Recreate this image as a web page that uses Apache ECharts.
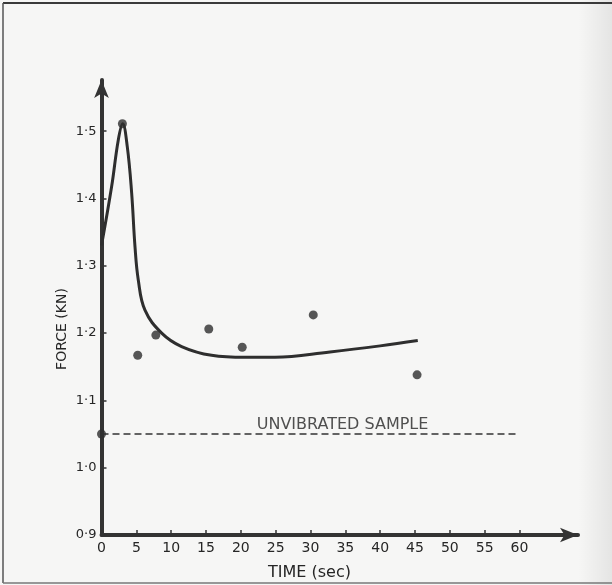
<!DOCTYPE html>
<html lang="en">
<head>
    <meta charset="UTF-8">
    <title>Force vs Time</title>
    <script src="https://cdn.jsdelivr.net/npm/echarts/dist/echarts.min.js"></script>
    <style>
        html, body { margin: 0; padding: 0; background: #f6f6f5; }
        #main { width: 612px; height: 585px; }
    </style>
</head>
<body>
    <div id="main"></div>
    <script>
        // measured points (dots)
        var dotTime = [0, 3.0, 5.2, 7.8, 15.4, 20.2, 30.4, 45.3];
        var dotForce = [1.05, 1.511, 1.167, 1.197, 1.206, 1.179, 1.227, 1.138];

        // hand drawn fitted curve
        var curveTime = [0, 1.46, 2.41, 3.04, 3.70, 4.33, 4.81, 5.28, 6.24, 8.64, 11.5, 15.8, 20.6, 24.9, 32.8, 40.0, 45.4];
        var curveForce = [1.33, 1.418, 1.487, 1.511, 1.477, 1.408, 1.328, 1.279, 1.234, 1.200, 1.180, 1.167, 1.164, 1.164, 1.172, 1.181, 1.189];

        // unvibrated reference level
        var refTime = [0, 60];
        var refForce = [1.05, 1.05];

        var timeTicks = [0, 5, 10, 15, 20, 25, 30, 35, 40, 45, 50, 55, 60];
        var forceTicks = [0.9, 1.0, 1.1, 1.2, 1.3, 1.4, 1.5];

        var ink = '#262626';
        var font = 'DejaVu Sans';

        function zip(xs, ys) {
            return xs.map(function (x, i) { return [x, ys[i]]; });
        }

        var chart = echarts.init(document.getElementById('main'));

        var option = {
            backgroundColor: '#f6f6f5',
            animation: false,
            grid: { left: 101.5, right: 34, top: 80, bottom: 50 },
            xAxis: {
                type: 'value',
                min: 0,
                max: 68.4,
                interval: 5,
                splitLine: { show: false },
                axisLine: {
                    lineStyle: { color: '#333', width: 4 },
                    symbol: ['none', 'arrow'],
                    symbolSize: [11, 18]
                },
                axisTick: {
                    inside: true, length: 5,
                    lineStyle: { color: '#333', width: 1.5 },
                    customValues: timeTicks
                },
                axisLabel: {
                    customValues: timeTicks,
                    color: ink, fontFamily: font, fontSize: 14, margin: 6
                }
            },
            yAxis: {
                type: 'value',
                min: 0.9,
                max: 1.576,
                interval: 0.1,
                splitLine: { show: false },
                axisLine: {
                    lineStyle: { color: '#333', width: 4 },
                    symbol: ['none', 'arrow'],
                    symbolSize: [11, 18]
                },
                axisTick: {
                    inside: true, length: 5,
                    lineStyle: { color: '#333', width: 1.5 },
                    customValues: forceTicks
                },
                axisLabel: {
                    customValues: forceTicks,
                    color: ink, fontFamily: font, fontSize: 13, margin: 5,
                    formatter: function (v) { return v.toFixed(1).replace('.', '·'); }
                }
            },
            graphic: [
                {
                    type: 'rect', shape: { x: 578, y: 0, width: 34, height: 585 },
                    style: {
                        fill: new echarts.graphic.LinearGradient(0, 0, 1, 0, [
                            { offset: 0, color: 'rgba(0,0,0,0)' },
                            { offset: 1, color: 'rgba(0,0,0,0.07)' }
                        ])
                    },
                    silent: true
                },
                { type: 'line', shape: { x1: 3, y1: 3, x2: 612, y2: 3 }, style: { stroke: '#3a3a3a', lineWidth: 2 } },
                { type: 'line', shape: { x1: 3, y1: 3, x2: 3, y2: 583 }, style: { stroke: '#555', lineWidth: 1.5 } },
                { type: 'line', shape: { x1: 3, y1: 583, x2: 612, y2: 583 }, style: { stroke: '#777', lineWidth: 1.5 } },
                {
                    type: 'text', left: 268, top: 565,
                    style: { text: 'TIME (sec)', fill: ink, font: '16px "DejaVu Sans"' }
                },
                {
                    type: 'text', x: 62, y: 329, rotation: Math.PI / 2,
                    style: {
                        text: 'FORCE (KN)', fill: ink, font: '14px "DejaVu Sans"',
                        align: 'center', verticalAlign: 'middle'
                    }
                }
            ],
            series: [
                {
                    name: 'unvibrated',
                    type: 'line',
                    data: zip(refTime, refForce),
                    showSymbol: false,
                    lineStyle: { color: '#333', width: 1.5, type: [7, 4] },
                    z: 2
                },
                {
                    name: 'label',
                    type: 'scatter',
                    data: [[34.6, 1.05]],
                    symbolSize: 0,
                    label: {
                        show: true, position: 'top', distance: 1,
                        formatter: 'UNVIBRATED SAMPLE',
                        color: ink, fontFamily: font, fontSize: 16
                    }
                },
                {
                    name: 'curve',
                    type: 'line',
                    data: zip(curveTime, curveForce),
                    smooth: 0.4,
                    showSymbol: false,
                    lineStyle: { color: '#2e2e2e', width: 3 },
                    z: 3
                },
                {
                    name: 'measured',
                    type: 'scatter',
                    data: zip(dotTime, dotForce),
                    symbolSize: 9,
                    itemStyle: { color: '#2e2e2e' },
                    z: 4
                }
            ]
        };

        chart.setOption(option);
    </script>
</body>
</html>
